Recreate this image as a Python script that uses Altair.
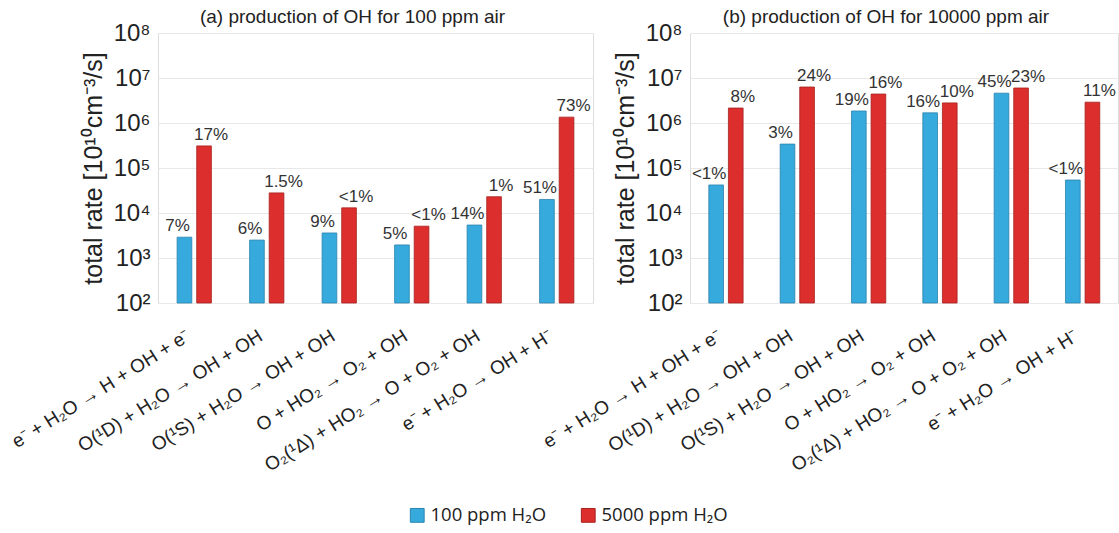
import altair as alt
import pandas as pd

reactions = [
    "e⁻ + H₂O → H + OH + e⁻",
    "O(¹D) + H₂O → OH + OH",
    "O(¹S) + H₂O → OH + OH",
    "O + HO₂ → O₂ + OH",
    "O₂(¹Δ) + HO₂ → O + O₂ + OH",
    "e⁻ + H₂O → OH + H⁻",
]
series = ["100 ppm H₂O", "5000 ppm H₂O"]

# panel (a): 100 ppm air
a_100 = [2900, 2500, 3600, 1950, 5400, 20000]
a_5000 = [310000, 28000, 13000, 5100, 23000, 1350000]
a_pct_100 = ["7%", "6%", "9%", "5%", "14%", "51%"]
a_pct_5000 = ["17%", "1.5%", "<1%", "<1%", "1%", "73%"]

# panel (b): 10000 ppm air
b_100 = [42000, 340000, 1850000, 1680000, 4600000, 54000]
b_5000 = [2150000, 6300000, 4400000, 2800000, 6000000, 2900000]
b_pct_100 = ["<1%", "3%", "19%", "16%", "45%", "<1%"]
b_pct_5000 = ["8%", "24%", "16%", "10%", "23%", "11%"]

titles = ["(a) production of OH for 100 ppm air", "(b) production of OH for 10000 ppm air"]
colors = ["#36A9DD", "#DC2E2C"]
strokes = ["#2B83AD", "#A52220"]
yticks = [1e2, 1e3, 1e4, 1e5, 1e6, 1e7, 1e8]
ytitle = "total rate [10¹⁰cm⁻³/s]"

FONT = "Liberation Sans"


def make_df(v100, v5000, p100, p5000):
    rows = []
    for i, r in enumerate(reactions):
        rows.append({"reaction": r, "series": series[0], "value": v100[i], "pct": p100[i]})
        rows.append({"reaction": r, "series": series[1], "value": v5000[i], "pct": p5000[i]})
    return pd.DataFrame(rows)


def panel(df, title, w, tdx):
    x = alt.X("reaction:N", sort=reactions, title=None,
              scale=alt.Scale(paddingInner=0.5, paddingOuter=0.25),
              axis=alt.Axis(labelAngle=-32, labelAlign="right", labelBaseline="middle",
                            labelFontSize=19, labelFont=FONT, labelColor="#222222",
                            labelPadding=31, labelOffset=-6, ticks=False, domain=False,
                            labelLimit=400))
    xo = alt.XOffset("series:N", sort=series,
                     scale=alt.Scale(paddingInner=0.25, paddingOuter=0.05))
    y = alt.Y("value:Q",
              scale=alt.Scale(type="log", domain=[1e2, 1e8]),
              title=ytitle,
              axis=alt.Axis(values=yticks, grid=True, gridColor="#E8E8E8", ticks=False,
                            domain=False, labelFontSize=24, labelFont=FONT,
                            labelColor="#222222", labelPadding=8,
                            labelExpr="'10' + ['⁰','¹','²','³','⁴','⁵','⁶','⁷','⁸'][round(log(datum.value)/LN10)]",
                            titleFontSize=25, titleFont=FONT, titleFontWeight="normal",
                            titleColor="#222222", titlePadding=6))
    base = alt.Chart(df)
    bars = base.mark_bar(strokeWidth=0.8).encode(
        x=x, xOffset=xo, y=y, y2=alt.datum(100),
        color=alt.Color("series:N", sort=series,
                        scale=alt.Scale(domain=series, range=colors),
                        legend=alt.Legend(title=None, orient="none", direction="horizontal",
                                          legendX=250, legendY=473,
                                          symbolType="square", symbolSize=190,
                                          symbolStrokeWidth=1, symbolStrokeColor="#333333",
                                          labelFontSize=18.5, labelFont="Open Sans",
                                          labelColor="#222222", columnPadding=32,
                                          symbolOffset=0, labelOffset=4)),
        stroke=alt.Stroke("series:N", sort=series,
                          scale=alt.Scale(domain=series, range=strokes), legend=None),
    )
    t100 = base.transform_filter(alt.datum.series == series[0]).mark_text(
        dy=-11, dx=-7, fontSize=17, font=FONT, color="#333333").encode(
        x=x, xOffset=xo, y=y, text="pct:N")
    t5000 = base.transform_filter(alt.datum.series == series[1]).mark_text(
        dy=-11, dx=7, fontSize=17, font=FONT, color="#333333").encode(
        x=x, xOffset=xo, y=y, text="pct:N")
    return alt.layer(bars, t100, t5000).properties(
        width=w, height=270,
        title=alt.TitleParams(title, fontSize=19, font=FONT, fontWeight="normal",
                              color="#222222", offset=-6, dx=tdx),
    )


df_a = make_df(a_100, a_5000, a_pct_100, a_pct_5000)
df_b = make_df(b_100, b_5000, b_pct_100, b_pct_5000)

chart = alt.hconcat(panel(df_a, titles[0], 435, -23), panel(df_b, titles[1], 428, -18),
                    spacing=97, bounds="flush").properties(
    padding={"left": 7, "top": 7, "right": 0, "bottom": 0}
).configure_view(stroke=None).configure(background="white")

chart.save("out.html", embed_options={"renderer": "svg", "actions": False})
